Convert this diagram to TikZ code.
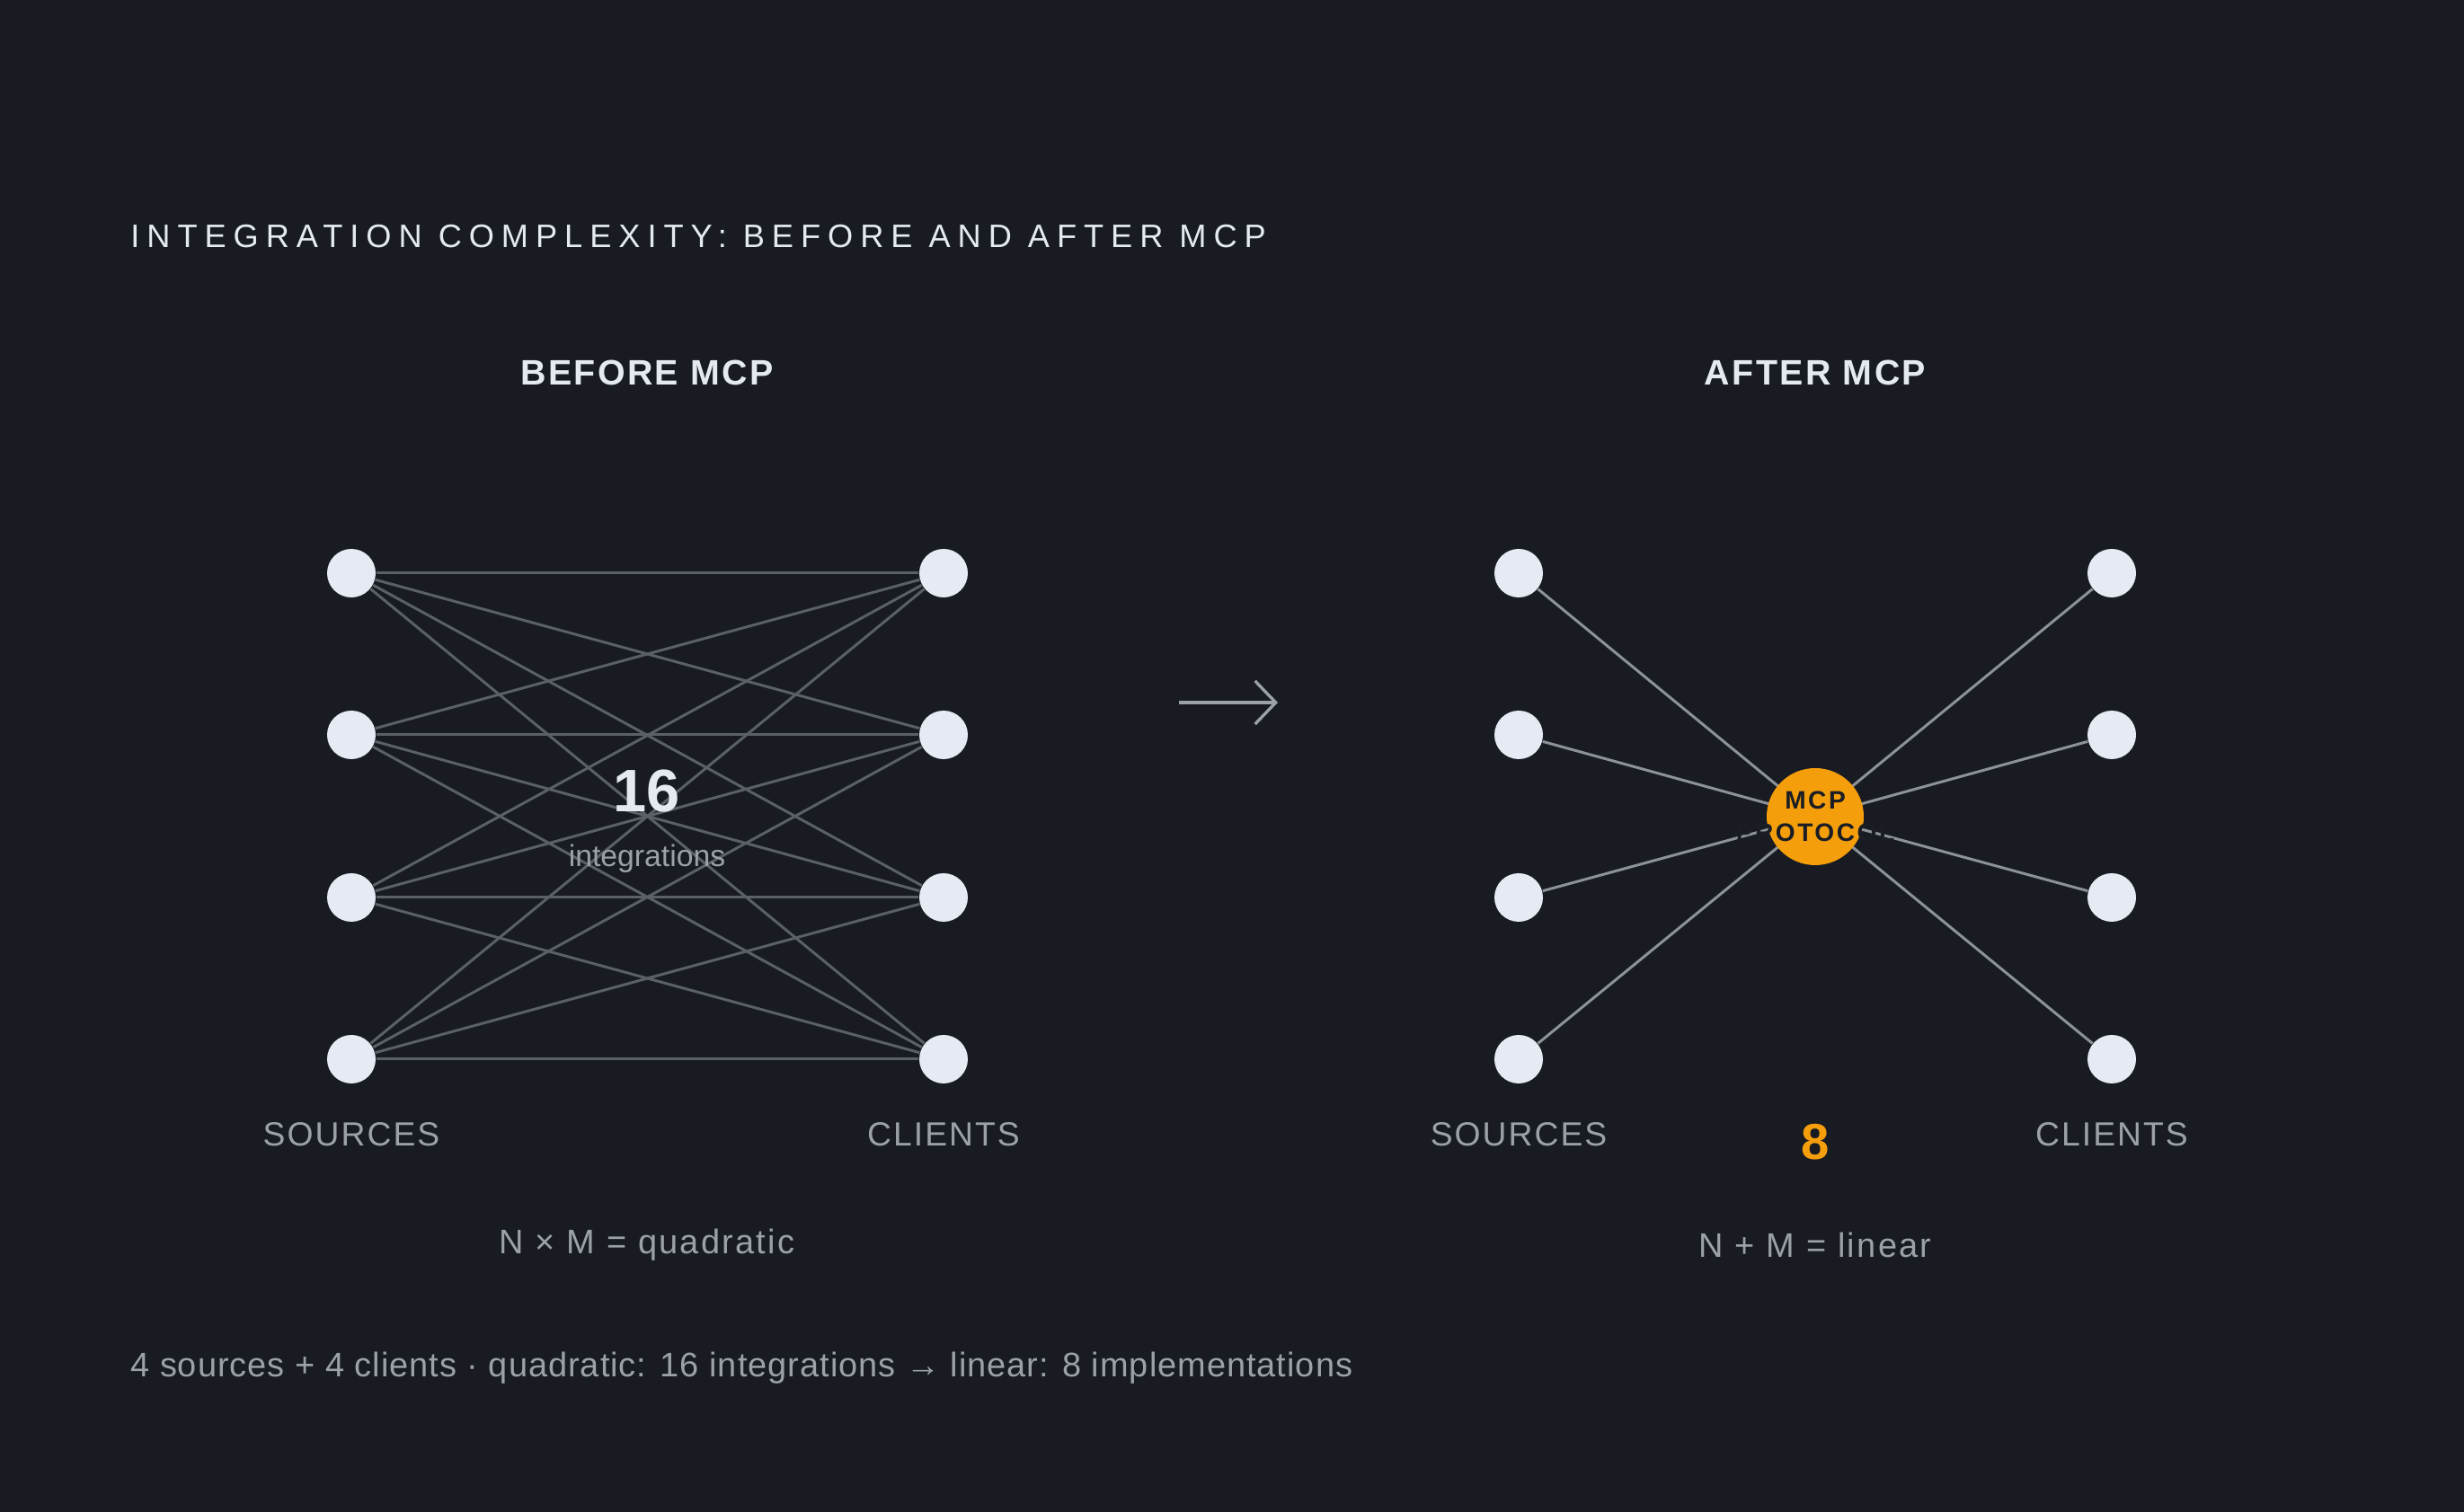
\documentclass[tikz,border=0pt]{standalone}
\usepackage{fontspec}
\setmainfont{Liberation Sans}
\newfontfamily\titlefont[LetterSpace=22]{Liberation Sans}
\newfontfamily\headfont[LetterSpace=6]{Liberation Sans}
\newfontfamily\hubfont[LetterSpace=9]{Liberation Sans}
\newfontfamily\capsfont[LetterSpace=5.5]{Liberation Sans}
\newfontfamily\notefont[LetterSpace=6]{Liberation Sans}
\newfontfamily\summaryfont[LetterSpace=2.6]{Liberation Sans}
\usepackage{xcolor}
\usepackage{tikz}
\usetikzlibrary{arrows.meta,positioning}
\definecolor{canvas}{HTML}{181B22}
\definecolor{nodefill}{HTML}{E5EAF3}
\definecolor{titletext}{HTML}{E5E9F0}
\definecolor{mutedtext}{HTML}{9CA0A8}
\definecolor{dimline}{HTML}{5B5F67}
\definecolor{hubline}{HTML}{8D9199}
\definecolor{hubfill}{HTML}{F59E0B}
\definecolor{hubtext}{HTML}{1A1D24}
\pgfdeclarelayer{edges}
\pgfdeclarelayer{canvaslayer}
\pgfsetlayers{canvaslayer,edges,main}
\tikzset{
  endpoint/.style={circle, fill=nodefill, draw=none, minimum size=5.4mm, inner sep=0pt},
  hub/.style={circle, fill=hubfill, draw=none, minimum size=10.8mm, inner sep=0pt},
  hublabel/.style={align=center, text=hubtext, inner sep=0pt, font=\fontsize{8}{10.2}\selectfont\bfseries\hubfont},
  pairline/.style={draw=dimline, line width=0.85pt},
  spokeline/.style={draw=hubline, line width=0.85pt},
  sidelabel/.style={text=mutedtext, font=\fontsize{10.6}{12}\selectfont\capsfont},
  paneltitle/.style={text=titletext, font=\fontsize{11.2}{13}\selectfont\bfseries\headfont},
  formula/.style={text=mutedtext, font=\fontsize{10.8}{13}\selectfont\notefont},
  flowarrow/.style={-{Straight Barb[length=2.3mm, width=4.8mm]}, draw=mutedtext, line width=0.95pt}
}

\begin{document}
\begin{tikzpicture}
  \begin{pgfonlayer}{canvaslayer}
    \fill[canvas] (0,0) rectangle (27.42,16.83);
  \end{pgfonlayer}
  \useasboundingbox (0,0) rectangle (27.42,16.83);

  \node[anchor=west, text=titletext, font=\fontsize{10.3}{12}\selectfont\titlefont] (title) at (1.33,14.20) {INTEGRATION COMPLEXITY: BEFORE AND AFTER MCP};

  % before
  \node[paneltitle] (beforetitle) at (7.20,12.68) {BEFORE MCP};
  \node[endpoint] (src1) at (3.91,10.45) {};
  \node[endpoint] (src2) at (3.91,8.65) {};
  \node[endpoint] (src3) at (3.91,6.84) {};
  \node[endpoint] (src4) at (3.91,5.04) {};
  \node[endpoint] (cli1) at (10.50,10.45) {};
  \node[endpoint] (cli2) at (10.50,8.65) {};
  \node[endpoint] (cli3) at (10.50,6.84) {};
  \node[endpoint] (cli4) at (10.50,5.04) {};
  \node[text=titletext, font=\fontsize{19}{22}\selectfont\bfseries] (count) at (7.20,8.02) {16};
  \node[text=mutedtext, font=\fontsize{9.6}{11}\selectfont] (countnote) at (7.20,7.27) {integrations};
  \node[sidelabel] (srclabel) at (3.91,4.20) {SOURCES};
  \node[sidelabel] (clilabel) at (10.50,4.20) {CLIENTS};
  \node[formula] (beforeformula) at (7.20,2.97) {N × M = quadratic};

  \begin{pgfonlayer}{edges}
    \draw[pairline] (src1) -- (cli1);
    \draw[pairline] (src1) -- (cli2);
    \draw[pairline] (src1) -- (cli3);
    \draw[pairline] (src1) -- (cli4);
    \draw[pairline] (src2) -- (cli1);
    \draw[pairline] (src2) -- (cli2);
    \draw[pairline] (src2) -- (cli3);
    \draw[pairline] (src2) -- (cli4);
    \draw[pairline] (src3) -- (cli1);
    \draw[pairline] (src3) -- (cli2);
    \draw[pairline] (src3) -- (cli3);
    \draw[pairline] (src3) -- (cli4);
    \draw[pairline] (src4) -- (cli1);
    \draw[pairline] (src4) -- (cli2);
    \draw[pairline] (src4) -- (cli3);
    \draw[pairline] (src4) -- (cli4);
  \end{pgfonlayer}

  % transition
  \coordinate (flowtail) at (13.12,9.01);
  \coordinate (flowtip) at (14.22,9.01);
  \draw[flowarrow] (flowtail) -- (flowtip);

  % after
  \node[paneltitle] (aftertitle) at (20.20,12.68) {AFTER MCP};
  \node[endpoint] (rsrc1) at (16.90,10.45) {};
  \node[endpoint] (rsrc2) at (16.90,8.65) {};
  \node[endpoint] (rsrc3) at (16.90,6.84) {};
  \node[endpoint] (rsrc4) at (16.90,5.04) {};
  \node[endpoint] (rcli1) at (23.50,10.45) {};
  \node[endpoint] (rcli2) at (23.50,8.65) {};
  \node[endpoint] (rcli3) at (23.50,6.84) {};
  \node[endpoint] (rcli4) at (23.50,5.04) {};
  \node[hub] (mcp) at (20.20,7.74) {};
  \node[hublabel] (mcplabel) at (mcp) {MCP\\PROTOCOL};
  \node[sidelabel] (rsrclabel) at (16.90,4.20) {SOURCES};
  \node[sidelabel] (rclilabel) at (23.50,4.20) {CLIENTS};
  \node[text=hubfill, font=\fontsize{16}{18}\selectfont\bfseries] (total) at (20.20,4.12) {8};
  \node[formula] (afterformula) at (20.20,2.97) {N + M = linear};

  \begin{pgfonlayer}{edges}
    \draw[spokeline] (rsrc1) -- (mcp.center);
    \draw[spokeline] (rsrc2) -- (mcp.center);
    \draw[spokeline] (rsrc3) -- (mcp.center);
    \draw[spokeline] (rsrc4) -- (mcp.center);
    \draw[spokeline] (rcli1) -- (mcp.center);
    \draw[spokeline] (rcli2) -- (mcp.center);
    \draw[spokeline] (rcli3) -- (mcp.center);
    \draw[spokeline] (rcli4) -- (mcp.center);
  \end{pgfonlayer}

  \node[anchor=west, text=mutedtext, font=\fontsize{10.8}{13}\selectfont\summaryfont] (summary) at (1.33,1.60) {4 sources + 4 clients · quadratic: 16 integrations → linear: 8 implementations};
\end{tikzpicture}
\end{document}
